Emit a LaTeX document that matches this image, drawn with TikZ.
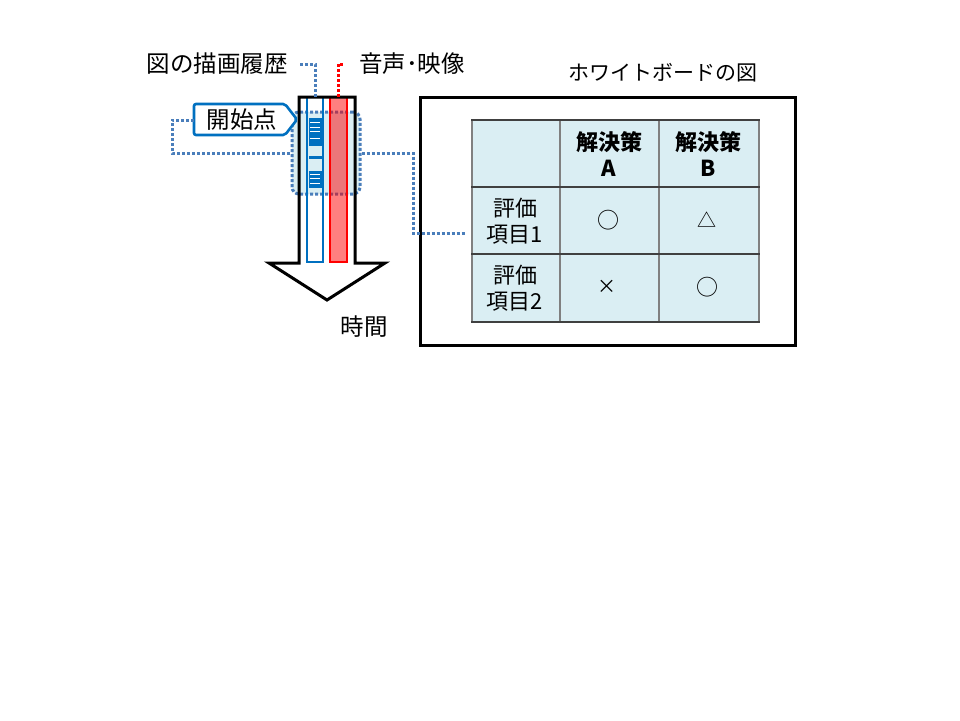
\documentclass[tikz,border=0pt]{standalone}
\usepackage{fontspec}
\setmainfont{Noto Sans CJK JP}
\definecolor{accblue}{RGB}{0,112,192}
\definecolor{dotblue}{RGB}{74,126,187}
\definecolor{paleblue}{RGB}{218,238,243}
\definecolor{tgray}{RGB}{128,128,128}
\begin{document}
\begin{tikzpicture}[x=1pt,y=-1pt,
  lbl/.style={font=\fontsize{22}{26}\selectfont, inner sep=0pt, align=center},
  biglbl/.style={font=\fontsize{23.5}{27}\selectfont, inner sep=0pt},
  bluedot/.style={draw=dotblue, line width=3pt, dash pattern=on 3pt off 2pt},
  reddot/.style={draw=red, line width=3pt, dash pattern=on 3pt off 2pt},
  stripe/.style={fill=accblue},
  gapline/.style={draw=white, line width=0.9pt},
  hline/.style={draw=black!75, line width=1.4pt},
  vline/.style={draw=tgray, line width=2pt}]
\useasboundingbox[fill=white] (0,0) rectangle (960,720);

% time arrow body
\path[fill=white] (299,97) -- (355,97) -- (355,263) -- (385,263) -- (327,300) -- (269,263) -- (299,263) -- cycle;

% dotted selection region
\node[bluedot, fill=paleblue, rounded corners=7pt, minimum width=68pt, minimum height=82pt, inner sep=0pt] (dr) at (326,153) {};

% drawing history bar with stripes
\fill[stripe] (308.5,118) rectangle (321.5,146);
\fill[stripe] (308.5,156) rectangle (321.5,159);
\fill[stripe] (308.5,171) rectangle (321.5,188);
\foreach \yy in {122,127,131.5,138,174,178,183}
  \draw[gapline] (310,\yy) -- (320,\yy);
\draw[draw=accblue, line width=2.5pt] (307,97) rectangle (323,262);
% audio/video bar
\fill[red, fill opacity=0.5] (330,97) rectangle (347,262);
\draw[draw=red, line width=2.5pt] (330,97) rectangle (347,262);
\draw[line width=3pt, line join=miter] (299,97) -- (355,97) -- (355,263) -- (385,263) -- (327,300) -- (269,263) -- (299,263) -- cycle;
\coordinate (bbtop) at (315,97);
\coordinate (rbtop) at (338,97);

% labels
\node[biglbl, anchor=east] (hist) at (288,64) {図の描画履歴};
\node[biglbl, anchor=west] (av) at (359,64) {音声･映像};
\node[biglbl] (time) at (364,327) {時間};
\node[lbl, font=\fontsize{21}{25}\selectfont] (wbtitle) at (663,73) {ホワイトボードの図};

% callout
\draw[accblue, line width=2.6pt, fill=white, rounded corners=2pt] (194,104) -- (285,104) -- (297,119.5) -- (285,135) -- (194,135) -- cycle;
\node[biglbl] (start) at (242,120) {開始点};
\coordinate (calloutL) at (194,120);

% connectors
\draw[bluedot] ([xshift=12pt]hist.east) -| (bbtop);
\draw[reddot] (rbtop) |- ([xshift=-15pt]av.west);
\draw[bluedot] (calloutL) -- ++(-22,0) |- (dr.west);

% whiteboard
\node[draw, line width=3pt, minimum width=375pt, minimum height=248pt, inner sep=0pt] (wb) at (607.5,221) {};
\fill[paleblue] (472,120) rectangle (759,322);
\foreach \xx in {472,560,659,759} \draw[vline] (\xx,120) -- (\xx,322);
\foreach \yy in {120,187,254,322} \draw[hline] (471,\yy) -- (760,\yy);
\coordinate (tblL) at (465,233);
\draw[bluedot] (dr.east) -| ([xshift=-52pt]tblL) -- (tblL);

% table contents
\node[lbl, font=\fontsize{22}{26}\selectfont\bfseries] (hA) at (609,154) {解決策\\A};
\node[lbl, font=\fontsize{22}{26}\selectfont\bfseries] (hB) at (708,154) {解決策\\B};
\node[lbl] (r1) at (515,221) {評価\\項目1};
\node[lbl] (r2) at (515,288) {評価\\項目2};
\node[lbl] (a1) at (608,220) {○};
\node[lbl, font=\fontsize{19}{22}\selectfont] (b1) at (707,220) {△};
\node[lbl, font=\fontsize{19}{22}\selectfont] (a2) at (607,287) {×};
\node[lbl] (b2) at (707,287) {○};
\end{tikzpicture}
\end{document}
